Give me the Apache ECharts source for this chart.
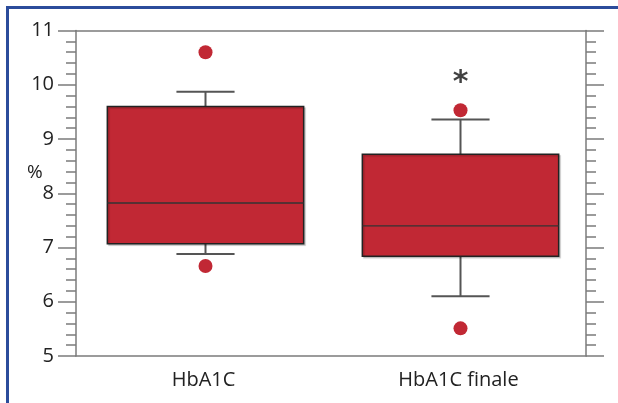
<!DOCTYPE html>
<html><head><meta charset="utf-8">
<script src="https://cdn.jsdelivr.net/npm/echarts@6/dist/echarts.min.js"></script>
<style>html,body{margin:0;padding:0;background:#fff}#c{width:618px;height:403px}</style>
</head><body><div id="c"></div>
<script>
const categories = ['HbA1C', 'HbA1C finale'];
const lowerWhisker = [6.88, 6.10];
const q1 = [7.07, 6.84];
const median = [7.82, 7.40];
const q3 = [9.60, 8.72];
const upperWhisker = [9.87, 9.36];
const outliers = [[0, 10.60], [0, 6.66], [1, 9.53], [1, 5.51]];
const yTicks = { min: 5, max: 11, interval: 1 };
const significance = [[1, 10.03, '*']];

const boxData = categories.map((c, i) => [i, lowerWhisker[i], q1[i], median[i], q3[i], upperWhisker[i]]);

const RED = '#c12834';
const AX = '#7b7b7b';
const FONT = 'Open Sans';

const chart = echarts.init(document.getElementById('c'), null, { renderer: 'canvas' });
const yAxisBase = {
  type: 'value', min: yTicks.min, max: yTicks.max, interval: yTicks.interval,
  splitLine: { show: false },
  axisLine: { show: true, lineStyle: { color: AX, width: 1.5 } },
  axisTick: { show: true, length: 18, lineStyle: { color: AX, width: 1.5 } },
  minorTick: { show: true, splitNumber: 5, length: 10, lineStyle: { color: AX, width: 1.5 } },
};
chart.setOption({
  animation: false,
  grid: { left: 76, right: 32, top: 30.5, bottom: 47 },
  xAxis: [{
    type: 'category', data: categories, position: 'bottom',
    axisLine: { lineStyle: { color: AX, width: 1.5 } },
    axisTick: { alignWithLabel: true, length: 9, lineStyle: { color: AX, width: 1.5 } },
    axisLabel: { fontFamily: FONT, fontSize: 20, color: '#222', margin: 14 }
  }, {
    type: 'category', data: categories, position: 'top',
    axisLine: { lineStyle: { color: AX, width: 1.5 } },
    axisTick: { alignWithLabel: true, length: 12, lineStyle: { color: AX, width: 1.5 } },
    axisLabel: { show: false }
  }],
  yAxis: [Object.assign({}, yAxisBase, {
    position: 'left',
    axisLabel: { fontFamily: FONT, fontSize: 20, color: '#222', margin: 22 }
  }), Object.assign({}, yAxisBase, {
    position: 'right',
    axisLabel: { show: false }
  })],
  graphic: [
    { type: 'rect', shape: { x: 6, y: 6, width: 620, height: 3 }, style: { fill: '#2b4c9b' } },
    { type: 'rect', shape: { x: 6, y: 6, width: 3, height: 410 }, style: { fill: '#2b4c9b' } },
    { type: 'text', left: 27, top: 163, style: { text: '%', fontFamily: FONT, fontSize: 19, fill: '#222' } }
  ],
  series: [{
    type: 'custom',
    data: boxData,
    encode: { x: 0, y: [1, 2, 3, 4, 5] },
    renderItem: function (params, api) {
      const x = api.value(0);
      const pLW = api.coord([x, api.value(1)]);
      const pQ1 = api.coord([x, api.value(2)]);
      const pMed = api.coord([x, api.value(3)]);
      const pQ3 = api.coord([x, api.value(4)]);
      const pUW = api.coord([x, api.value(5)]);
      const band = api.size([1, 0])[0];
      const bw = band * 0.77, cw = band * 0.228;
      const cx = pQ1[0] + 2;
      const wStyle = { stroke: '#555', lineWidth: 2 };
      return {
        type: 'group', children: [
          { type: 'line', shape: { x1: cx, y1: pQ3[1], x2: cx, y2: pUW[1] }, style: wStyle },
          { type: 'line', shape: { x1: cx - cw / 2, y1: pUW[1], x2: cx + cw / 2, y2: pUW[1] }, style: wStyle },
          { type: 'line', shape: { x1: cx, y1: pQ1[1], x2: cx, y2: pLW[1] }, style: wStyle },
          { type: 'line', shape: { x1: cx - cw / 2, y1: pLW[1], x2: cx + cw / 2, y2: pLW[1] }, style: wStyle },
          { type: 'rect', shape: { x: cx - bw / 2, y: pQ3[1], width: bw, height: pQ1[1] - pQ3[1] },
            style: { fill: RED, stroke: '#222', lineWidth: 1.5, shadowColor: 'rgba(0,0,0,0.18)', shadowOffsetX: 1.5, shadowOffsetY: 1.5, shadowBlur: 1 } },
          { type: 'line', shape: { x1: cx - bw / 2, y1: pMed[1], x2: cx + bw / 2, y2: pMed[1] }, style: { stroke: '#333', lineWidth: 1.3 } }
        ]
      };
    }
  }, {
    type: 'scatter', data: outliers, symbolSize: 14, symbolOffset: [2, 0], itemStyle: { color: RED, opacity: 1 }
  }, {
    type: 'scatter', data: significance.map(d => [d[0], d[1]]), symbolSize: 1, symbolOffset: [2, 0], itemStyle: { color: 'transparent' },
    label: { show: true, position: 'inside', formatter: (p) => significance[p.dataIndex][2], fontFamily: 'DejaVu Sans', fontSize: 30, fontWeight: 'bold', color: '#111' }
  }]
});
</script></body></html>
